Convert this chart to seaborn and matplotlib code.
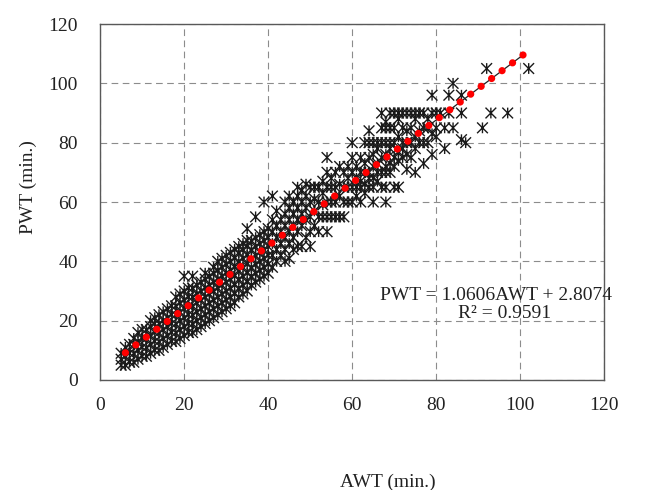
import numpy as np
import pandas as pd
import seaborn as sns
import matplotlib.pyplot as plt
from matplotlib.path import Path

# AWT values (min.) and the PWT readings observed at each AWT
awt_cols = [5, 6, 7, 8, 9, 10, 11, 12, 13, 14, 15, 16, 17, 18, 19, 20,
            21, 22, 23, 24, 25, 26, 27, 28, 29, 30, 31, 32, 33, 34, 35, 36,
            37, 38, 39, 40, 41, 42, 43, 44, 45, 46, 47, 48, 49, 50, 51, 52,
            53, 54, 55, 56, 57, 58, 59, 60, 61, 62, 63, 64, 65, 66, 67, 68,
            69, 70, 71, 72, 73, 74, 75, 76, 77, 78, 79, 80, 81, 82, 83, 84,
            86, 87, 91, 92, 93, 97, 102]
pwt_cols = [
    [5, 7, 9], [5, 8, 11], [6, 9, 12], [6, 9, 12, 14], [7, 10, 13, 16],
    [8, 11, 14, 17], [8, 11, 14, 17], [9, 12, 15, 18, 20], [10, 13, 16, 19, 21],
    [10, 13, 16, 19, 22], [11, 14, 17, 20, 23], [12, 15, 18, 21, 24],
    [13, 16, 19, 22, 25], [13, 16, 19, 22, 25, 28], [14, 17, 20, 23, 26, 29],
    [15, 18, 21, 24, 27, 30, 35], [16, 19, 22, 25, 28, 31],
    [16, 19, 22, 25, 28, 31, 35], [17, 20, 23, 26, 29, 32],
    [18, 21, 24, 27, 30, 33], [19, 22, 25, 28, 31, 34, 36],
    [20, 23, 26, 29, 32, 35], [21, 24, 27, 30, 33, 36, 38],
    [22, 25, 28, 31, 34, 37, 40], [23, 26, 29, 32, 35, 38, 41],
    [24, 27, 30, 33, 36, 39, 42], [25, 28, 31, 34, 37, 40, 43],
    [26, 29, 32, 35, 38, 41, 44], [28, 31, 34, 37, 40, 43, 45],
    [29, 32, 35, 38, 41, 44, 46], [30, 33, 36, 39, 42, 45, 47, 51],
    [32, 35, 38, 41, 44, 47], [33, 36, 39, 42, 45, 48, 55],
    [34, 37, 40, 43, 46, 49], [35, 38, 41, 44, 47, 50, 60],
    [36, 39, 42, 45, 48, 51], [38, 42, 46, 50, 54, 62],
    [40, 44, 48, 52, 57], [42, 46, 50, 54],
    [40, 44, 48, 52, 56, 60], [41, 46, 50, 54, 58, 62],
    [44, 48, 52, 56, 60], [45, 50, 54, 58, 62, 65],
    [45, 52, 56, 60, 64], [48, 54, 58, 62, 66],
    [45, 50, 55, 60, 65], [52, 57, 61, 65],
    [50, 55, 60, 65], [55, 59, 63, 67],
    [50, 55, 60, 65, 70, 75], [55, 60, 65, 68],
    [55, 60, 65, 70], [55, 62, 66, 72], [55, 60, 65, 70],
    [60, 65, 68, 72], [60, 65, 70, 75, 80], [62, 65, 68, 72],
    [60, 65, 67, 70, 75], [63, 66, 70, 73, 80], [65, 68, 70, 75, 80, 84],
    [60, 65, 68, 72, 76, 80], [67, 70, 73, 78, 80], [65, 70, 75, 80, 85, 90],
    [60, 65, 70, 72, 76, 80, 85, 87], [70, 73, 78, 80, 85, 90],
    [65, 72, 75, 80, 85, 90], [65, 74, 77, 82, 88, 90], [75, 78, 80, 85, 90],
    [71, 76, 80, 84, 90], [75, 80, 85, 90], [70, 78, 82, 88, 90],
    [80, 84, 90], [73, 80, 85, 90], [80, 85, 88], [76, 83, 90, 96],
    [82, 85, 90], [90], [78, 85], [90, 96], [85, 100],
    [81, 90, 96], [80], [85], [105], [90], [90], [105],
]

# fitted trend line, as printed on the chart
slope = 1.0606
intercept = 2.8074
r_squared = 0.9591
trend_range = [6, 101]

awt = [x for x, ys in zip(awt_cols, pwt_cols) for _ in ys]
pwt = [y for ys in pwt_cols for y in ys]
df = pd.DataFrame({'AWT': awt, 'PWT': pwt})

trend_x = np.array(trend_range, dtype=float)
trend = pd.DataFrame({'AWT': trend_x, 'PWT': slope * trend_x + intercept})

sns.set_theme(style="white")
plt.rcParams['font.family'] = ['Liberation Serif', 'DejaVu Serif']

fig, ax = plt.subplots(figsize=(6.59, 4.90), dpi=100)
fig.subplots_adjust(left=0.152, right=0.917, bottom=0.2245, top=0.951)

# Excel style "*" marker: an x crossed by a vertical stroke
star = Path([(-1, -1), (1, 1), (-1, 1), (1, -1), (0, -1), (0, 1)],
            [Path.MOVETO, Path.LINETO, Path.MOVETO, Path.LINETO,
             Path.MOVETO, Path.LINETO])

sns.scatterplot(data=df, x='AWT', y='PWT', marker=star, s=60,
                facecolor='none', edgecolor='#1a1a1a', linewidth=1.0,
                ax=ax, zorder=2)

# trend line: thin dark line under red round dots
sns.lineplot(data=trend, x='AWT', y='PWT', color='#222222', linewidth=0.9,
             ax=ax, zorder=3)
ax.plot(trend['AWT'], trend['PWT'], color='red', linewidth=5.2,
        linestyle=(0, (0.01, 1.8)), dash_capstyle='round', zorder=4)

ax.set_xlim(0, 120)
ax.set_ylim(0, 120)
ax.set_xticks(range(0, 121, 20))
ax.set_yticks(range(0, 121, 20))
ax.tick_params(axis='both', length=0, labelsize=14, colors='#222222')
ax.tick_params(axis='x', pad=12)
ax.tick_params(axis='y', pad=16)

ax.grid(True, color='#8c8c8c', linewidth=0.8, linestyle=(0, (6, 4)))
ax.set_axisbelow(True)
for side in ax.spines.values():
    side.set_color('#595959')
    side.set_linewidth(1.0)

ax.set_xlabel('AWT (min.)', fontsize=14, color='#222222')
ax.set_ylabel('PWT (min.)', fontsize=14, color='#222222')
ax.xaxis.set_label_coords(0.571, -0.262)
ax.yaxis.set_label_coords(-0.125, 0.542)

ax.text(66.7, 28.6, f'PWT = {slope}AWT + {intercept}', fontsize=14,
        color='#222222', ha='left', va='center')
ax.text(85.2, 22.4, f'R\u00b2 = {r_squared}', fontsize=14,
        color='#222222', ha='left', va='center')

plt.savefig('out.png', dpi=100)
